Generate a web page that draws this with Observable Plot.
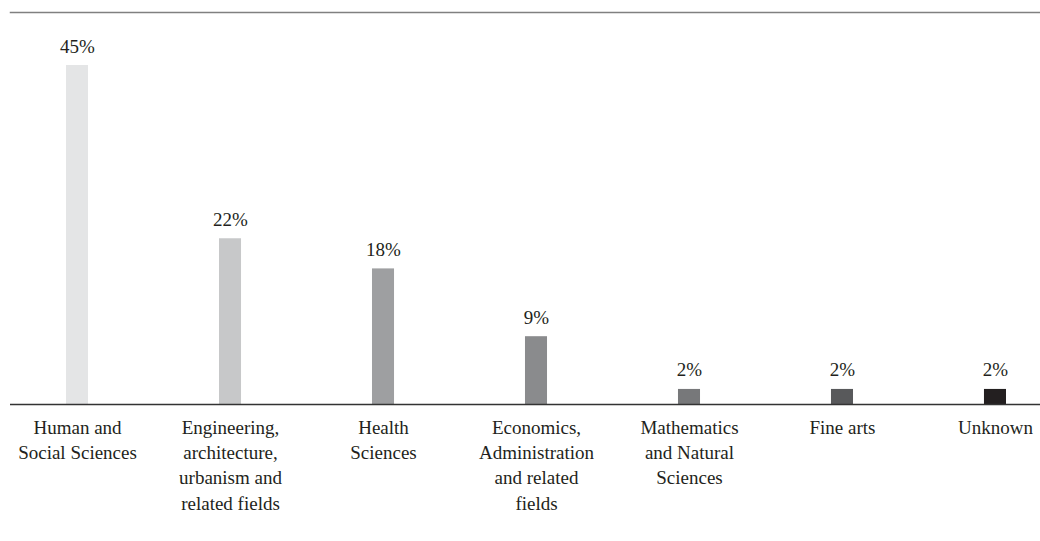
<!DOCTYPE html>
<html>
<head>
<meta charset="utf-8">
<script src="https://cdn.jsdelivr.net/npm/d3@7"></script>
<script src="https://cdn.jsdelivr.net/npm/@observablehq/plot@0.6"></script>
<style>
  html, body { margin: 0; padding: 0; background: #fff; }
  #chart svg { display: block; }
</style>
</head>
<body>
<div id="chart"></div>
<script>
const categories = [
  "Human and Social Sciences",
  "Engineering, architecture, urbanism and related fields",
  "Health Sciences",
  "Economics, Administration and related fields",
  "Mathematics and Natural Sciences",
  "Fine arts",
  "Unknown"
];
const tickLabels = [
  "Human and\nSocial Sciences",
  "Engineering,\narchitecture,\nurbanism and\nrelated fields",
  "Health\nSciences",
  "Economics,\nAdministration\nand related\nfields",
  "Mathematics\nand Natural\nSciences",
  "Fine arts",
  "Unknown"
];
const values = [45, 22, 18, 9, 2, 2, 2];
const colors = ["#e4e5e6", "#c7c8c9", "#9e9fa1", "#8a8b8d", "#77787a", "#58595b", "#231f20"];

const data = categories.map((c, i) => ({category: c, value: values[i], color: colors[i], label: tickLabels[i]}));
const labelOf = new Map(data.map(d => [d.category, d.label]));

const chart = Plot.plot({
  width: 1040,
  height: 541,
  marginTop: 12,
  marginLeft: 10,
  marginRight: 0,
  marginBottom: 137,
  style: {fontFamily: "'Liberation Serif', serif", fontSize: "19px", color: "#231f20", background: "#fff"},
  x: {domain: categories, range: [66, 1006], paddingInner: 0.856, paddingOuter: 0, round: false, label: null},
  y: {domain: [0, 45], range: [404, 65], axis: null},
  marks: [
    Plot.frame({anchor: "top", stroke: "#808080", strokeWidth: 1.5}),
    Plot.barY(data, {x: "category", y: "value", fill: "color"}),
    Plot.ruleY([0], {stroke: "#333", strokeWidth: 1.5}),
    Plot.text(data, {x: "category", y: "value", text: d => d.value + "%", dy: -13, lineAnchor: "bottom", fontSize: 19, fill: "#231f20"}),
    Plot.axisX({tickSize: 0, tickPadding: 12, tickFormat: d => labelOf.get(d), lineHeight: 1.32, fontSize: 19, label: null, fill: "#231f20"})
  ]
});
document.getElementById("chart").appendChild(chart);
</script>
</body>
</html>
